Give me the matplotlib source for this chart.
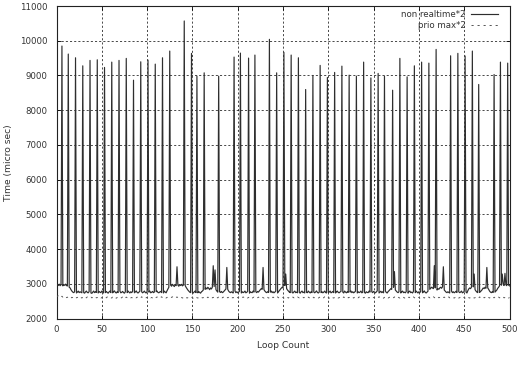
import numpy as np
import matplotlib
matplotlib.use("Agg")
import matplotlib.pyplot as plt

# ---------------- data ----------------
x_ticks = [0, 50, 100, 150, 200, 250, 300, 350, 400, 450, 500]
y_ticks = [2000, 3000, 4000, 5000, 6000, 7000, 8000, 9000, 10000, 11000]

series_labels = ["non realtime*2", "prio max*2"]

# baseline of "non realtime*2" (loop 0..500)
nr_base = [
2960,2985,2950,2990,2945,2970,2960,2940,2975,2955,
2990,2950,2935,2960,2900,2880,2830,2790,2760,2745,
2770,2750,2735,2760,2790,2745,2770,2755,2740,2780,
2745,2730,2765,2790,2750,2740,2775,2760,2735,2725,
2760,2790,2745,2770,2750,2760,2735,2780,2755,2745,
2790,2760,2735,2770,2745,2780,2750,2730,2765,2790,
2745,2760,2740,2775,2795,2750,2735,2770,2745,2760,
2790,2740,2755,2780,2745,2730,2770,2750,2745,2790,
2760,2735,2770,2745,2780,2760,2740,2765,2795,2750,
2735,2760,2785,2745,2770,2740,2760,2790,2750,2735,
2775,2745,2760,2790,2740,2755,2780,2745,2760,2735,
2770,2790,2750,2740,2765,2780,2745,2760,2735,2790,
2760,2740,2800,2850,2900,2940,2960,2930,2985,2950,
2920,2970,2945,2990,2960,2930,2975,2950,2985,2940,
2960,2920,2950,2900,2860,2820,2790,2760,2745,2770,
2750,2735,2765,2790,2745,2760,2740,2775,2750,2730,
2770,2790,2820,2860,2840,2880,2850,2900,2870,2830,
2880,2850,2900,2870,2920,2860,2830,2790,2760,2745,
2770,2750,2780,2745,2760,2790,2820,2850,2880,2840,
2790,2760,2745,2770,2750,2735,2760,2790,2745,2770,
2740,2760,2785,2750,2735,2770,2745,2760,2790,2740,
2755,2780,2745,2730,2770,2750,2745,2790,2760,2735,
2770,2745,2780,2760,2800,2830,2860,2840,2880,2830,
2790,2760,2745,2770,2750,2735,2760,2790,2745,2770,
2740,2760,2790,2750,2735,2775,2800,2840,2870,2900,
2880,2920,2950,2900,2860,2820,2790,2760,2745,2770,
2750,2735,2765,2790,2745,2760,2740,2775,2750,2730,
2770,2790,2745,2760,2735,2780,2750,2745,2790,2760,
2735,2770,2745,2780,2760,2740,2765,2795,2750,2735,
2760,2785,2745,2770,2740,2760,2790,2750,2735,2775,
2745,2760,2790,2740,2755,2780,2745,2760,2735,2770,
2790,2750,2740,2765,2780,2745,2760,2735,2790,2760,
2740,2770,2750,2735,2760,2790,2745,2770,2740,2760,
2785,2750,2735,2770,2745,2760,2790,2740,2755,2780,
2745,2730,2770,2750,2745,2790,2760,2735,2770,2745,
2780,2760,2740,2765,2795,2750,2735,2760,2785,2745,
2770,2740,2760,2790,2750,2735,2775,2800,2830,2860,
2840,2880,2900,2860,2820,2790,2760,2745,2770,2750,
2735,2765,2790,2745,2760,2740,2775,2750,2730,2770,
2790,2745,2760,2735,2780,2750,2745,2790,2760,2735,
2770,2745,2780,2760,2740,2765,2795,2750,2735,2760,
2785,2800,2840,2870,2900,2880,2860,2900,2880,2850,
2820,2860,2840,2880,2900,2870,2910,2860,2820,2790,
2760,2745,2770,2750,2735,2760,2790,2745,2770,2740,
2760,2785,2750,2735,2770,2745,2760,2790,2740,2755,
2780,2745,2760,2735,2800,2850,2880,2860,2900,2870,
2910,2860,2830,2790,2760,2745,2770,2750,2780,2800,
2840,2880,2860,2900,2870,2920,2880,2840,2790,2760,
2745,2770,2750,2735,2760,2790,2820,2870,2900,2940,
2910,2960,2930,2985,2950,2920,2970,2945,2990,2960,
2940,
]

# tall spikes of "non realtime*2"
spike_loops = [6, 13, 21, 29, 37, 45, 53, 61, 69, 77, 85, 93, 101, 109, 117, 125,
               141, 149, 155, 163, 179, 196, 203, 212, 219, 235, 243, 251, 259,
               267, 275, 283, 291, 299, 307, 315, 323, 331, 339, 347, 355, 362,
               371, 379, 387, 395, 403, 411, 419, 435, 443, 451, 459, 466, 483,
               490, 498]
spike_vals = [9847, 9616, 9509, 9277, 9433, 9451, 9231, 9384, 9433, 9491, 8864,
              9393, 9442, 9326, 9509, 9702, 10569, 9636, 8980, 9075, 8980, 9529,
              9644, 9500, 9587, 10040, 9075, 9664, 9587, 9509, 8595, 9000, 9289,
              8942, 9087, 9268, 9009, 8980, 9384, 8930, 9058, 8980, 8575, 9491,
              8960, 9277, 9384, 9355, 9750, 9566, 9636, 9560, 9702, 8740, 9027,
              9384, 9355]

# small spikes of "non realtime*2"
small_loops = [133, 173, 175, 188, 228, 253, 373, 417, 427, 461, 475, 492, 495]
small_vals = [3490, 3520, 3400, 3470, 3470, 3280, 3350, 3520, 3490, 3280, 3470,
              3280, 3300]

# "prio max*2" (loop 0..500)
prio_vals = [
2650,2640,2655,2630,2645,2620,2640,2615,2630,2610,
2625,2600,2615,2595,2620,2605,2590,2610,2600,2585,
2605,2620,2595,2610,2590,2600,2625,2605,2590,2615,
2600,2585,2610,2595,2620,2600,2590,2605,2615,2595,
2610,2590,2600,2620,2595,2605,2590,2615,2600,2585,
2605,2615,2595,2610,2585,2600,2620,2605,2590,2610,
2600,2590,2615,2595,2620,2605,2585,2605,2615,2595,
2605,2590,2600,2625,2595,2610,2590,2615,2600,2590,
2610,2620,2595,2605,2590,2600,2620,2605,2595,2615,
2600,2590,2610,2595,2625,2600,2590,2610,2615,2595,
2610,2585,2600,2615,2595,2605,2595,2620,2600,2585,
2605,2620,2600,2610,2590,2605,2625,2600,2590,2615,
2605,2590,2610,2600,2620,2615,2600,2610,2625,2600,
2615,2595,2605,2620,2600,2610,2595,2615,2605,2590,
2605,2620,2595,2610,2590,2600,2615,2605,2590,2610,
2600,2585,2610,2600,2620,2600,2590,2605,2615,2595,
2610,2595,2600,2620,2600,2605,2590,2615,2600,2590,
2605,2620,2595,2610,2590,2600,2625,2605,2595,2615,
2600,2585,2610,2595,2615,2600,2590,2605,2620,2595,
2610,2590,2605,2620,2595,2605,2590,2610,2600,2585,
2605,2615,2595,2610,2590,2600,2620,2605,2590,2615,
2600,2590,2610,2595,2620,2600,2585,2605,2615,2595,
2610,2590,2600,2615,2595,2605,2590,2615,2600,2590,
2605,2620,2595,2610,2590,2600,2625,2605,2590,2615,
2600,2585,2610,2600,2620,2600,2590,2605,2615,2595,
2610,2590,2600,2620,2595,2605,2590,2615,2600,2585,
2605,2615,2595,2610,2590,2600,2620,2605,2595,2610,
2600,2590,2610,2595,2620,2600,2590,2605,2615,2595,
2610,2590,2605,2620,2595,2605,2595,2615,2600,2590,
2605,2620,2595,2610,2590,2600,2625,2605,2590,2615,
2600,2585,2610,2595,2620,2600,2590,2605,2615,2595,
2610,2590,2600,2615,2595,2605,2590,2620,2600,2585,
2605,2620,2595,2610,2590,2600,2620,2605,2590,2615,
2600,2590,2610,2595,2620,2600,2590,2605,2615,2595,
2610,2595,2600,2620,2595,2605,2590,2615,2600,2585,
2605,2615,2595,2610,2590,2600,2625,2605,2595,2615,
2600,2585,2610,2595,2620,2600,2590,2605,2615,2595,
2610,2590,2600,2620,2600,2605,2590,2615,2600,2590,
2605,2620,2595,2610,2590,2600,2620,2605,2590,2615,
2600,2590,2610,2595,2620,2600,2585,2605,2615,2595,
2610,2590,2605,2620,2595,2605,2590,2615,2600,2585,
2605,2615,2595,2610,2590,2600,2625,2605,2590,2615,
2600,2585,2610,2600,2620,2600,2590,2605,2615,2595,
2610,2590,2600,2620,2595,2605,2595,2615,2600,2590,
2605,2620,2595,2610,2590,2600,2620,2605,2590,2615,
2600,2590,2610,2595,2620,2600,2590,2605,2615,2595,
2610,2590,2600,2615,2595,2605,2590,2620,2600,2585,
2605,2620,2595,2610,2590,2600,2625,2605,2590,2615,
2600,2585,2610,2595,2620,2600,2590,2605,2615,2595,
2610,2590,2600,2620,2595,2605,2590,2615,2600,2590,
2605,
]

# ---------------- figure ----------------
plt.rcParams['font.family'] = ['DejaVu Sans']
fig = plt.figure(figsize=(5.18, 3.66), dpi=100)
ax = fig.add_axes([56.5/518, 1-318.5/366, 453/518, 312.5/366])

nr = np.array(nr_base, dtype=float)
nr[spike_loops] = spike_vals
nr[small_loops] = small_vals
loops = np.arange(len(nr))

prio = np.array(prio_vals, dtype=float)

ax.plot(loops, nr, color='#2e2e2e', lw=0.85, label=series_labels[0], zorder=3)
ax.plot(np.arange(len(prio)), prio, color='#555555', lw=0.7,
        linestyle=(0, (2.2, 4.0)), label=series_labels[1], zorder=3)

ax.set_xlim(0, 500)
ax.set_ylim(2000, 11000)
ax.set_xticks(x_ticks)
ax.set_yticks(y_ticks)
ax.tick_params(direction='in', length=3, width=0.6, top=True, right=True,
               labelsize=6.2, colors='black', pad=6.5)
ax.tick_params(axis='x', pad=5)
for lab in ax.get_xticklabels() + ax.get_yticklabels():
    lab.set_color('#333333')
ax.grid(True, color='black', lw=0.5, linestyle=(0, (3, 3)))
for s in ax.spines.values():
    s.set_linewidth(0.8)
    s.set_color('#222222')

ax.set_xlabel("Loop Count", fontsize=6.6, color='#333333')
ax.set_ylabel("Time (micro sec)", fontsize=6.6, color='#333333')
ax.xaxis.set_label_coords(0.5, -0.072)
ax.yaxis.set_label_coords(-0.096, 0.5)

leg = ax.legend(loc='upper right', bbox_to_anchor=(0.975, 0.988),
                markerfirst=False, frameon=False, fontsize=6.2,
                handlelength=3.2, handletextpad=0.6, labelspacing=0.25,
                borderpad=0, borderaxespad=0)
for t in leg.get_texts():
    t.set_color('#333333')

fig.savefig("out.png", dpi=100)
